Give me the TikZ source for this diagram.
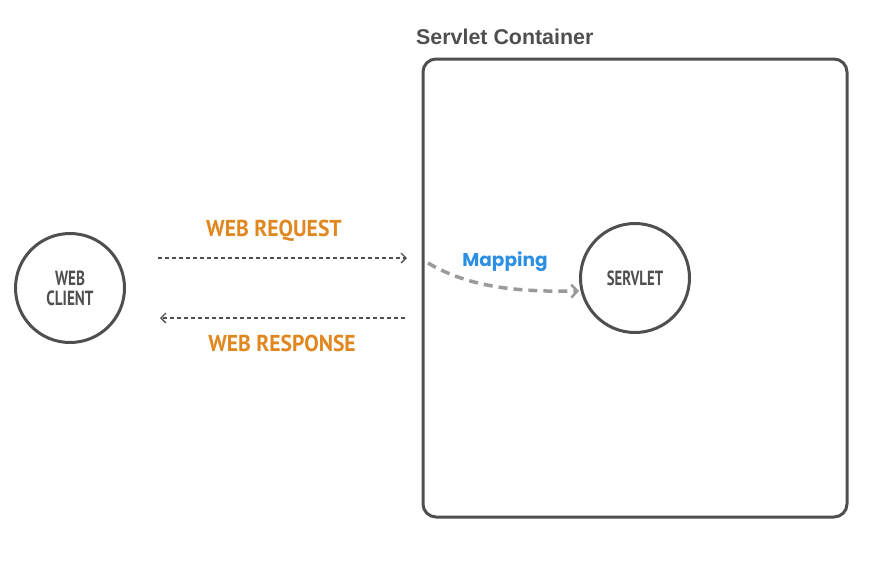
\documentclass[tikz,border=0pt]{standalone}
\usepackage{fontspec}
\setmainfont{Liberation Sans}
\newfontfamily\condfont{PT Sans}
\newfontfamily\roundfont{Poppins}
\usetikzlibrary{arrows.meta}
\definecolor{ink}{HTML}{4F4F4F}
\definecolor{flowgray}{HTML}{9A9A9A}
\definecolor{reqorange}{HTML}{E0871F}
\definecolor{mapblue}{HTML}{2D8FE3}
\tikzset{
  actor/.style={circle, draw=ink, line width=3pt, minimum size=109pt, inner sep=0pt,
    text=ink, align=center, font=\condfont\bfseries\fontsize{20.5}{21}\selectfont},
  flowlabel/.style={text=reqorange, inner sep=0pt, font=\condfont\bfseries\fontsize{23}{25}\selectfont},
  msg/.style={draw=ink, line width=1.3pt, dash pattern=on 4pt off 3pt,
    -{Straight Barb[length=5pt,width=10pt,line width=1.3pt]}},
  mapflow/.style={draw=flowgray, line width=3.5pt, dash pattern=on 9pt off 6pt,
    -{Straight Barb[length=6pt,width=13pt,line width=2.5pt]}},
}
\begin{document}
\begin{tikzpicture}[x=1pt,y=-1pt]
  \useasboundingbox (0,0) rectangle (888,563);

  % servlet container frame and its title
  \draw[ink, line width=3pt, rounded corners=13pt] (423,59) rectangle (847,517);
  \node[anchor=base west, inner sep=0pt, text=ink, font=\bfseries\fontsize{21.4}{24}\selectfont]
    (title) at (416,44) {Servlet Container};

  % the two endpoints
  \node[actor] (client) at (70,288) {\scalebox{0.74}[1]{WEB}\\[-1pt]\scalebox{0.74}[1]{CLIENT}};
  \node[actor] (servlet) at (635,278) {\scalebox{0.72}[1]{SERVLET}};

  % request / response messages
  \coordinate (reqA) at (158,258);
  \coordinate (reqB) at (407,258);
  \coordinate (resA) at (405,318);
  \coordinate (resB) at (160,318);
  \draw[msg] (reqA) -- (reqB);
  \draw[msg] (resA) -- (resB);
  \node[flowlabel] (reqlabel) at (274,231) {\scalebox{0.94}[1]{WEB REQUEST}};
  \node[flowlabel] (reslabel) at (282,343) {\scalebox{0.94}[1]{WEB RESPONSE}};

  % mapping from the container to the servlet
  \coordinate (mapA) at (428,263);
  \draw[mapflow] (mapA) .. controls (470,288) and (520,292) .. (servlet.west |- 0,291);
  \node[text=mapblue, inner sep=0pt, font=\roundfont\bfseries\fontsize{18.5}{20}\selectfont]
    (maplabel) at (505,262) {Mapping};
\end{tikzpicture}
\end{document}
